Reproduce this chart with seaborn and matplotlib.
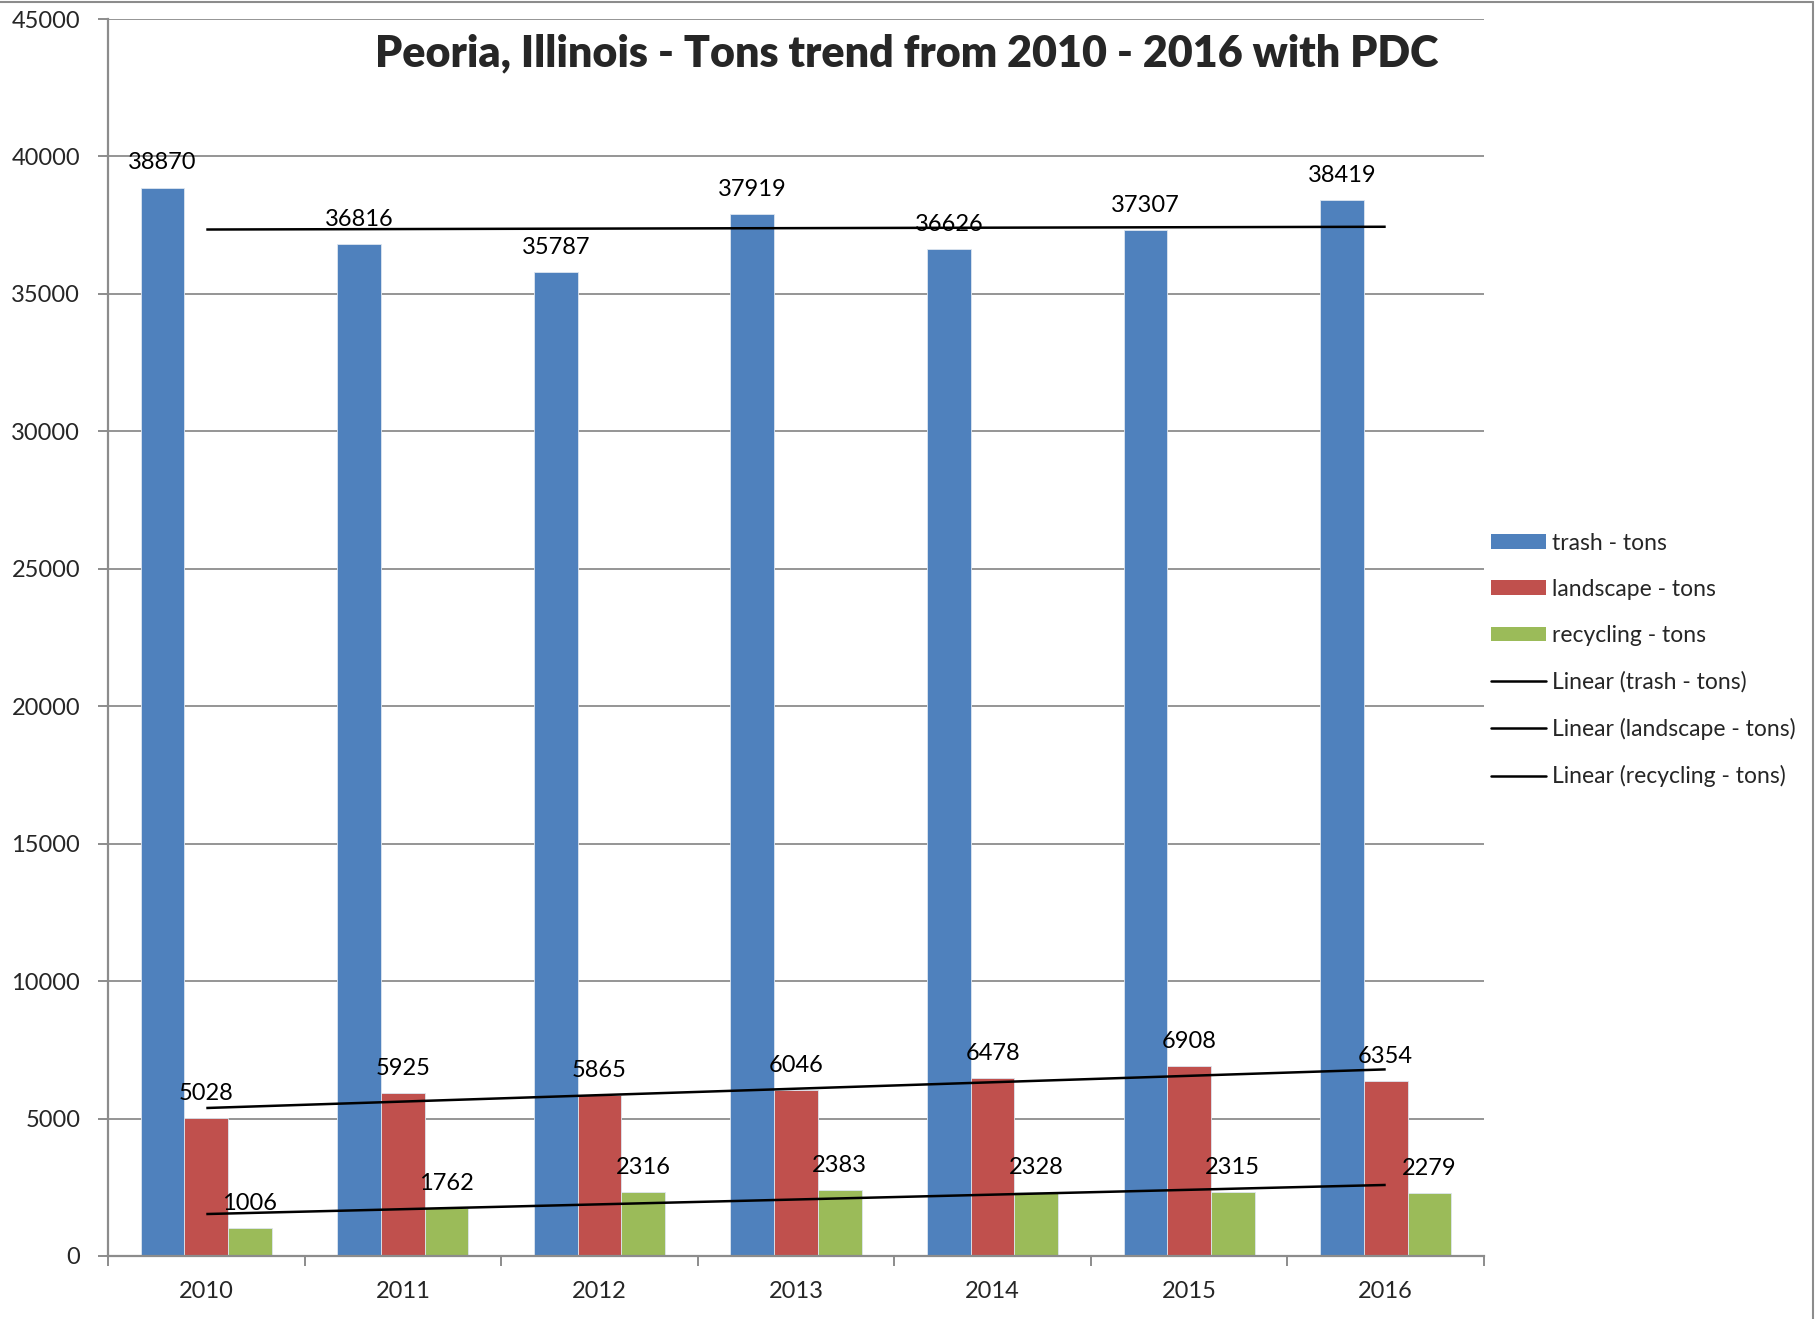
import numpy as np
import pandas as pd
import matplotlib
matplotlib.use("Agg")
import matplotlib.pyplot as plt
import seaborn as sns
from matplotlib.patches import Patch
from matplotlib.lines import Line2D

years = ["2010", "2011", "2012", "2013", "2014", "2015", "2016"]
trash = [38870, 36816, 35787, 37919, 36626, 37307, 38419]
landscape = [5028, 5925, 5865, 6046, 6478, 6908, 6354]
recycling = [1006, 1762, 2316, 2383, 2328, 2315, 2279]
series_names = ["trash - tons", "landscape - tons", "recycling - tons"]
colors = ["#4F81BD", "#C0504D", "#9BBB59"]
title = "Peoria, Illinois - Tons trend from 2010 - 2016 with PDC"
yticks = [0, 5000, 10000, 15000, 20000, 25000, 30000, 35000, 40000, 45000]

sns.set_theme(style="white")
plt.rcParams["font.family"] = ["Lato", "DejaVu Sans"]

df = pd.DataFrame({
    "year": years * 3,
    "tons": trash + landscape + recycling,
    "series": [series_names[0]] * 7 + [series_names[1]] * 7 + [series_names[2]] * 7,
})

fig = plt.figure(figsize=(18.18, 13.19), dpi=100)
ax = fig.add_axes([108 / 1818, 1 - 1256 / 1319, (1484 - 108) / 1818, (1256 - 19) / 1319])

sns.barplot(data=df, x="year", y="tons", hue="series", order=years,
            hue_order=series_names, palette=colors, width=0.667, gap=0,
            saturation=1, ax=ax, legend=False, edgecolor="#dde6f0", linewidth=0.6)

ax.set_ylim(0, 45000)
ax.set_xlim(-0.5, 6.5)
ax.set_yticks(yticks)
ax.set_yticklabels([str(v) for v in yticks], fontsize=17)
ax.set_xlabel("")
ax.set_ylabel("")
ax.yaxis.grid(True, color="#8c8c8c", linewidth=1.3)
ax.set_axisbelow(True)
for s in ["top", "right"]:
    ax.spines[s].set_visible(False)
for s in ["left", "bottom"]:
    ax.spines[s].set_color("#8c8c8c")
    ax.spines[s].set_linewidth(1.6)

ax.tick_params(axis="y", which="major", left=True, length=7, width=1.4,
               color="#8c8c8c", pad=13, labelsize=17, direction="out")
ax.set_xticks(range(len(years)))
ax.set_xticklabels(years, fontsize=17)
ax.tick_params(axis="x", which="major", bottom=False, length=0, pad=18, labelsize=17)
ax.set_xticks(np.arange(-0.5, 7, 1), minor=True)
ax.tick_params(axis="x", which="minor", bottom=True, length=7, width=1.4,
               color="#8c8c8c", direction="out")

# data labels
n = len(series_names)
bw = 0.667 / n
for i, vals in enumerate([trash, landscape, recycling]):
    for j, v in enumerate(vals):
        xc = j - 0.667 / 2 + bw * (i + 0.5)
        ax.annotate(str(v), (xc, v), xytext=(0, 13), textcoords="offset points",
                    ha="center", va="baseline", fontsize=17, color="black")

# linear trendlines
xs = np.arange(len(years))
for vals in [trash, landscape, recycling]:
    k, b = np.polyfit(xs + 1, vals, 1)
    ax.plot([0, 6], [k * 1 + b, k * 7 + b], color="black", linewidth=1.8,
            solid_capstyle="butt", zorder=5)

fig.text(907 / 1818, 1 - 53 / 1319, title, fontsize=31, fontweight="heavy",
         ha="center", va="center")

handles = [Patch(facecolor=c, edgecolor="none") for c in colors]
handles += [Line2D([], [], color="black", linewidth=1.8) for _ in range(3)]
labels = series_names + ["Linear (" + s + ")" for s in series_names]
fig.legend(handles, labels, loc="center left",
           bbox_to_anchor=(1486 / 1818, 1 - 660 / 1319), frameon=False,
           fontsize=16.5, handlelength=2.4, handleheight=0.6, handletextpad=0.3,
           labelspacing=1.1, borderaxespad=0, borderpad=0.2)

# outer chart border (top and right visible)
fig.add_artist(Line2D([0, 1813 / 1818], [1 - 2 / 1319, 1 - 2 / 1319],
                      color="#8c8c8c", linewidth=1.5, transform=fig.transFigure))
fig.add_artist(Line2D([1813 / 1818, 1813 / 1818], [0, 1 - 2 / 1319],
                      color="#8c8c8c", linewidth=1.5, transform=fig.transFigure))

fig.savefig("out.png", dpi=100)
